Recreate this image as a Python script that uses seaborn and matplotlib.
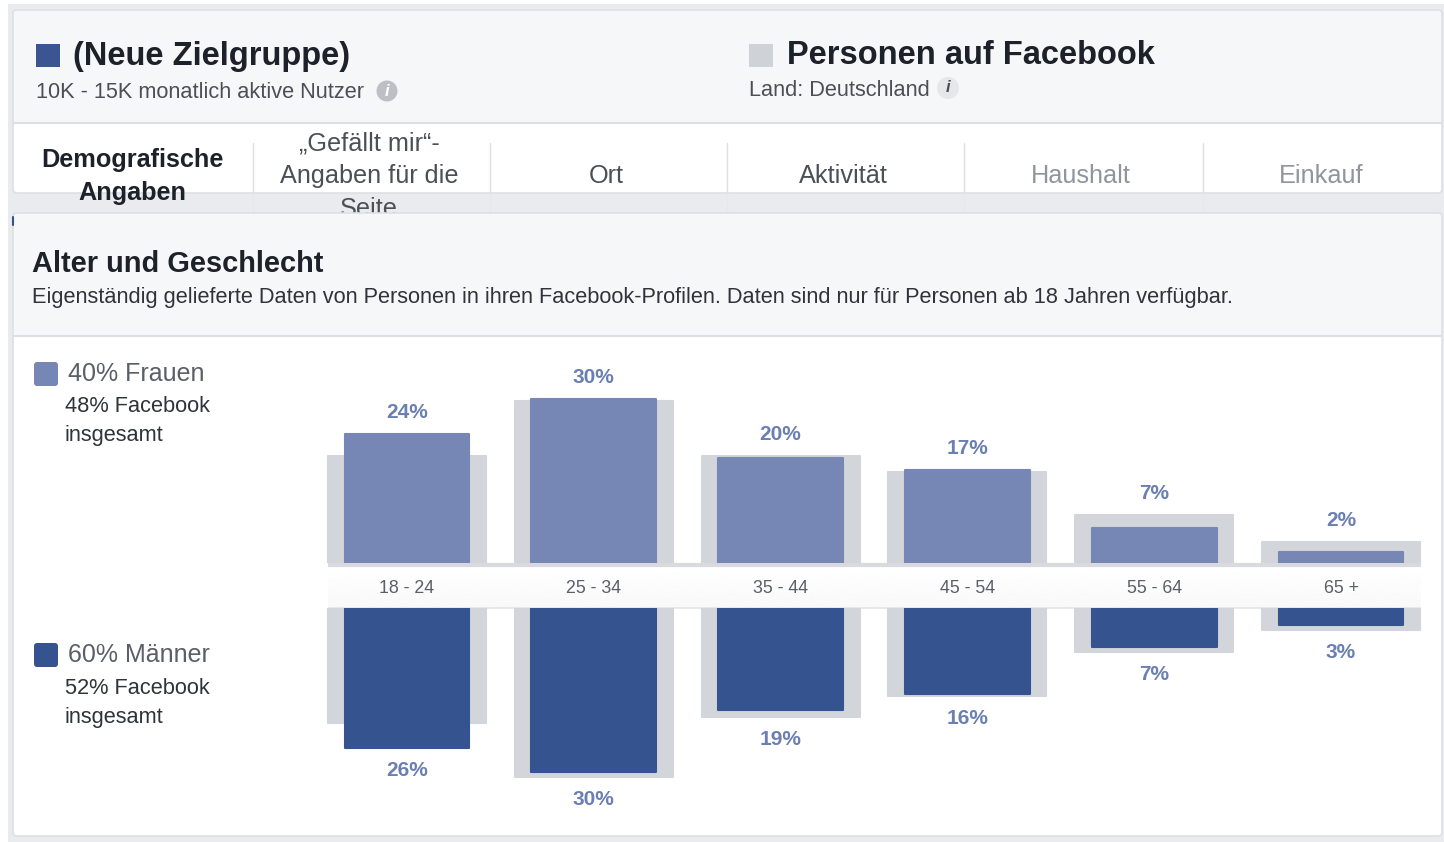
import numpy as np
import pandas as pd
import matplotlib.pyplot as plt
import seaborn as sns
from matplotlib.patches import FancyBboxPatch, Rectangle, Circle

ages = ['18 - 24', '25 - 34', '35 - 44', '45 - 54', '55 - 64', '65 +']
women_pct = [23.6, 30.0, 19.2, 17.0, 6.4, 2.1]
men_pct = [25.6, 30.0, 18.6, 15.7, 7.1, 3.1]
fb_women_pct = [19.6, 29.6, 19.6, 16.7, 8.8, 3.9]
fb_men_pct = [21.0, 30.9, 19.9, 16.1, 8.0, 4.0]
women_labels = ['24%', '30%', '20%', '17%', '7%', '2%']
men_labels = ['26%', '30%', '19%', '16%', '7%', '3%']

tabs = ['Demografische\nAngaben', '„Gefällt mir“-\nAngaben für die\nSeite', 'Ort', 'Aktivität', 'Haushalt', 'Einkauf']
tab_colors = ['#1d2129', '#4b4f56', '#4b4f56', '#4b4f56', '#90949c', '#90949c']

W, H = 1444, 842
FONT = ['Liberation Sans', 'DejaVu Sans']
LIGHT = '#7687b6'
DARK = '#35538f'
GREY = '#d2d5da'
PANEL = '#f6f7f9'
PAGE = '#e9ebee'
EDGE = '#dddfe2'
VALUE = '#6a7fb2'
PX_PER_PCT = 5.47

sns.set_theme(style='white')
plt.rcParams['font.family'] = FONT

fig = plt.figure(figsize=(W / 100, H / 100), dpi=100, facecolor='white')

# page layer, in pixel coordinates
bg = fig.add_axes([0, 0, 1, 1], zorder=0)
bg.set_xlim(0, W)
bg.set_ylim(H, 0)
bg.axis('off')


def box(x0, y0, x1, y1, color, z=1, edge='none', r=4):
    bg.add_patch(FancyBboxPatch((x0 + r, y0 + r), x1 - x0 - 2 * r, y1 - y0 - 2 * r,
                                boxstyle=f'round,pad={r},rounding_size={r}',
                                fc=color, ec=edge, lw=1.2, zorder=z))


def text(x, y, s, size, color='#1d2129', weight='normal', ha='left', z=6, **kw):
    # +2 because va=center sits a bit high for this font
    bg.text(x, y + 2, s, fontsize=size, color=color, fontweight=weight, ha=ha, va='center', zorder=z, **kw)


bg.add_patch(Rectangle((8, 4), W - 8, H - 4, fc=PAGE, ec='none', zorder=0.5))

# top panel
box(13, 10, 1442, 193, 'white', z=1, edge=EDGE)
box(14, 11, 1441, 123, PANEL, z=1.2, r=3)
bg.plot([14, 1441], [122.5, 122.5], color=EDGE, lw=1.5, zorder=1.5)

bg.add_patch(Rectangle((36, 44), 24, 23, fc='#3b5592', ec='none', zorder=3))
bg.add_patch(Rectangle((749, 44), 24, 23, fc='#cfd2d7', ec='none', zorder=3))
text(73, 54, '(Neue Zielgruppe)', 23.5, weight='bold')
text(787, 54, 'Personen auf Facebook', 23.5, weight='bold')
text(36, 90, '10K - 15K monatlich aktive Nutzer', 15.7, color='#4b4f56')
text(749, 89, 'Land: Deutschland', 15.7, color='#4b4f56')

bg.add_patch(Circle((387, 91), 10.5, fc='#bcc0c6', ec='none', zorder=3))
text(387, 89, 'i', 12, color='white', weight='bold', ha='center', style='italic')
bg.add_patch(Circle((948, 88), 11, fc='#e6e7e9', ec='none', zorder=3))
text(948, 86, 'i', 12, color='#4b4f56', weight='bold', ha='center', style='italic')

# tabs
for x in [253, 490, 727, 964, 1203]:
    bg.plot([x, x], [143, 193], color=EDGE, lw=1, zorder=2)
    bg.plot([x, x], [193, 212], color='#e6e8eb', lw=1, zorder=2)
tab_x = [132, 369, 606, 843, 1081, 1321]
for x, t, c in zip(tab_x, tabs, tab_colors):
    lines = t.split('\n')
    if len(lines) == 1:
        ys = [174]
    elif len(lines) == 2:
        ys = [158, 191]
    else:
        ys = [141, 174, 207]
    for y, line in zip(ys, lines):
        text(x, y, line, 18.2, color=c, ha='center', z=3,
             weight='bold' if c == '#1d2129' else 'normal')

# lower panel, covers the overflowing tab text
box(13, 213, 1442, 836, 'white', z=4, edge=EDGE)
box(14, 214, 1441, 336, PANEL, z=4.2, r=3)
bg.plot([14, 1441], [336, 336], color=EDGE, lw=1.5, zorder=4.5)
bg.plot([13, 13], [217, 225], color=DARK, lw=1.5, zorder=5)

text(32, 262, 'Alter und Geschlecht', 20.9, weight='bold')
text(32, 296, 'Eigenständig gelieferte Daten von Personen in ihren Facebook-Profilen. '
     'Daten sind nur für Personen ab 18 Jahren verfügbar.', 15.7, color='#2f333a')

# legend block
box(34, 362, 58, 386, LIGHT, z=5, r=3)
box(34, 643, 58, 667, DARK, z=5, r=3)
text(68, 372, '40% Frauen', 18, color='#5a5f68')
text(65, 405, '48% Facebook', 15.7, color='#2f333a')
text(65, 434, 'insgesamt', 15.7, color='#2f333a')
text(68, 653, '60% Männer', 18, color='#5a5f68')
text(65, 686, '52% Facebook', 15.7, color='#2f333a')
text(65, 715, 'insgesamt', 15.7, color='#2f333a')

# label band between the two bar charts
band = np.linspace(1, 0, 32).reshape(-1, 1)
bg.imshow(band, extent=(328, 1421, 608, 566), aspect='auto', cmap='gray', vmin=-40, vmax=1,
          zorder=5, interpolation='bilinear')
bg.set_xlim(0, W)
bg.set_ylim(H, 0)
bg.plot([328, 1421], [564.5, 564.5], color='#d8dadf', lw=3, zorder=5, solid_capstyle='butt')
bg.plot([328, 1421], [608, 608], color='#e3e5e8', lw=1.2, zorder=5, solid_capstyle='butt')

# bar charts
left = 407 - 93.4
width = 186.8 * 6


def chart(y_top, y_bottom):
    ax = fig.add_axes([left / W, 1 - y_bottom / H, width / W, (y_bottom - y_top) / H], zorder=2)
    ax.patch.set_alpha(0)
    sns.despine(ax=ax, left=True, bottom=True)
    return ax


df = pd.DataFrame({'age': ages, 'women': women_pct, 'men': men_pct,
                   'fb_women': fb_women_pct, 'fb_men': fb_men_pct})

top = chart(340, 563)
sns.barplot(data=df, x='age', y='fb_women', color=GREY, saturation=1, width=0.845, ax=top)
sns.barplot(data=df, x='age', y='women', color=LIGHT, saturation=1, width=0.668, ax=top)
top.set_ylim(0, 223 / PX_PER_PCT)

bottom = chart(608, 830)
sns.barplot(data=df, x='age', y='fb_men', color=GREY, saturation=1, width=0.845, ax=bottom)
sns.barplot(data=df, x='age', y='men', color=DARK, saturation=1, width=0.668, ax=bottom)
bottom.set_ylim(222 / PX_PER_PCT, 0)

for ax in (top, bottom):
    ax.set_xlim(-0.5, 5.5)
    ax.set_xlabel('')
    ax.set_ylabel('')
    ax.set_yticks([])
    # rounded corners on every bar
    for p in ax.patches:
        p.set_edgecolor(p.get_facecolor())
        p.set_linewidth(1.5)
        p.set_joinstyle('round')

top.set_xticks(range(6), ages)
top.tick_params(axis='x', length=0, pad=12, labelsize=12.8, labelcolor='#5a5f68')
bottom.set_xticks([])

for i, lab in enumerate(women_labels):
    top.annotate(lab, (i, max(women_pct[i], fb_women_pct[i])), xytext=(0, 15.5), textcoords='offset points',
                 ha='center', va='center', fontsize=15, fontweight='bold', color=VALUE)
for i, lab in enumerate(men_labels):
    bottom.annotate(lab, (i, max(men_pct[i], fb_men_pct[i])), xytext=(0, -16.5), textcoords='offset points',
                    ha='center', va='center', fontsize=15, fontweight='bold', color=VALUE)

fig.savefig('out.png', dpi=100)
